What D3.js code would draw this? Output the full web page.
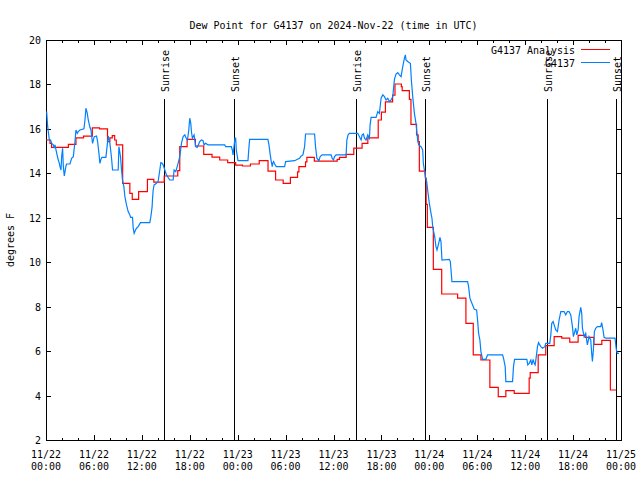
<!DOCTYPE html>
<html><head><meta charset="utf-8">
<script src="https://cdn.jsdelivr.net/npm/d3@7"></script>
<style>
body{margin:0;background:#fff}
svg text{font-family:"DejaVu Sans Mono",monospace;font-size:11px;fill:#000}
</style></head><body>
<svg id="c" width="640" height="480"></svg>
<script>
// ---- data (hours since 2024-11-22 00:00 UTC) ----
const titleText = "Dew Point for G4137 on 2024-Nov-22 (time in UTC)";
const yLabel = "degrees F";
const seriesNames = ["G4137 Analysis", "G4137"];
const yTicks = [2, 4, 6, 8, 10, 12, 14, 16, 18, 20];

const analysisHours = [
  0, 0.5, 0.7, 2.8, 3.75, 4.7, 5.8, 6.7, 7.7, 8.0,
  8.3, 8.6, 8.8, 9.6, 10.5, 10.8, 11.6, 12.7, 13.5, 14.8,
  16.5, 16.75, 17.67, 18.71, 19.75, 20.79, 21.75, 22.75, 23.75, 24.6,
  25.6, 26.7, 27.8, 28.75, 29.7, 30.6, 31.5, 31.67, 32.5, 32.67,
  33.6, 36.46, 36.75, 37.58, 38.54, 39.58, 40.3, 41.6, 42.0, 42.5,
  43.4, 43.7, 44.5, 44.6, 45.5, 45.7, 46.4, 46.6, 46.75, 47.5,
  47.6, 47.75, 48.5, 49.55, 51.54, 52.58, 53.5, 54.46, 55.58, 56.63,
  57.58, 58.63, 60.5, 60.63, 61.63, 62.58, 63.63, 64.58, 65.58, 66.63,
  67.5, 68.6, 69.6, 70.67, 71.42
];
const analysisValues = [
  15.5, 15.35, 15.17, 15.3, 15.6, 15.67, 16.05, 16.0, 15.43, 15.6,
  15.7, 15.5, 15.28, 13.55, 13.1, 12.83, 13.18, 13.73, 13.6, 13.88,
  14.12, 15.2, 15.53, 15.23, 14.85, 14.73, 14.6, 14.48, 14.37, 14.33,
  14.42, 14.57, 14.1, 13.7, 13.55, 13.82, 14.07, 14.3, 14.52, 14.72,
  14.55, 14.63, 14.72, 14.85, 15.13, 15.35, 15.6, 16.4, 16.75, 17.22,
  17.52, 18.02, 17.9, 17.72, 17.33, 16.2, 15.73, 15.43, 14.1, 13.78,
  12.6, 11.57, 9.68, 8.57, 8.38, 7.25, 5.83, 5.6, 4.37, 3.95,
  4.22, 4.1, 4.78, 5.03, 5.83, 6.25, 6.65, 6.58, 6.4, 6.71,
  6.62, 6.3, 6.48, 4.25, 4.25
];

const stationHours = [
  0.08, 0.21, 0.42, 0.58, 0.71, 0.92, 1.04, 1.13, 1.25, 1.42,
  1.54, 1.67, 1.75, 1.88, 1.96, 2.08, 2.17, 2.29, 2.38, 2.5,
  2.58, 3.0, 3.21, 3.42, 3.63, 3.75, 3.92, 4.04, 4.25, 4.75,
  4.88, 5.0, 5.17, 5.29, 5.5, 5.63, 5.75, 5.83, 6.04, 6.33,
  6.46, 6.63, 6.75, 6.88, 7.0, 7.5, 7.67, 7.79, 8.0, 8.21,
  8.33, 9.04, 9.13, 9.33, 9.46, 9.58, 9.75, 9.88, 10.08, 10.29,
  10.5, 10.58, 10.83, 10.92, 11.04, 11.21, 11.33, 11.54, 11.83, 13.0,
  13.13, 13.29, 13.33, 13.42, 13.54, 13.83, 14.04, 14.25, 14.38, 14.54,
  14.67, 14.88, 15.08, 15.5, 15.92, 16.04, 16.25, 16.54, 16.75, 16.96,
  17.17, 17.38, 17.5, 17.71, 17.88, 18.0, 18.13, 18.21, 18.33, 18.42,
  18.54, 18.63, 18.75, 18.92, 19.08, 19.25, 19.46, 19.67, 19.79, 19.96,
  20.29, 22.38, 22.5, 23.21, 23.33, 23.42, 23.54, 23.67, 23.75, 23.83,
  24.04, 25.29, 25.42, 25.5, 27.79, 27.92, 28.08, 28.21, 28.33, 28.42,
  28.5, 28.63, 28.83, 29.88, 30.0, 31.13, 31.75, 31.96, 32.17, 32.38,
  32.5, 33.63, 33.75, 33.92, 34.17, 34.33, 34.58, 35.71, 35.83, 36.0,
  36.13, 36.33, 37.58, 37.67, 37.83, 38.0, 39.04, 39.25, 39.46, 39.58,
  39.75, 39.88, 40.08, 40.29, 40.5, 40.58, 40.71, 41.33, 41.54, 41.75,
  41.96, 42.17, 42.38, 42.58, 42.79, 43.0, 43.21, 43.42, 43.54, 43.63,
  43.83, 44.04, 44.25, 44.46, 44.67, 44.88, 45.0, 45.08, 45.29, 45.5,
  45.63, 45.75, 45.92, 46.13, 46.33, 46.54, 46.67, 46.83, 46.96, 47.17,
  47.25, 47.38, 47.5, 47.67, 47.79, 48.0, 48.21, 48.33, 48.42, 48.54,
  48.67, 48.83, 48.96, 49.17, 49.33, 49.46, 49.58, 50.5, 50.63, 50.83,
  52.79, 52.92, 53.08, 53.33, 53.63, 53.92, 54.04, 54.17, 54.33, 54.46,
  54.67, 55.08, 55.29, 57.17, 57.29, 57.5, 57.58, 58.42, 58.54, 58.67,
  60.21, 60.33, 60.5, 60.71, 60.83, 61.0, 61.13, 61.25, 61.42, 61.54,
  61.67, 61.83, 61.96, 62.17, 62.46, 62.58, 63.08, 63.21, 63.33, 63.5,
  63.63, 63.83, 64.04, 64.25, 64.46, 64.88, 65.08, 65.29, 65.5, 65.71,
  65.92, 66.04, 66.21, 66.33, 66.46, 66.63, 66.75, 66.96, 67.08, 67.17,
  67.38, 67.58, 67.79, 68.0, 68.21, 68.33, 68.42, 68.54, 68.67, 68.83,
  69.04, 69.46, 69.58, 69.75, 69.88, 70.08, 70.5, 71.25, 71.42, 71.54,
  71.75
];
const stationValues = [
  16.78, 16.1, 15.5, 15.5, 15.35, 15.28, 15.13, 15.28, 15.05, 14.78,
  14.6, 14.45, 14.3, 14.15, 14.75, 15.13, 14.3, 13.88, 14.08, 14.33,
  14.42, 14.42, 14.68, 14.75, 15.43, 15.95, 15.8, 15.88, 15.95, 16.0,
  16.4, 16.93, 16.7, 16.4, 16.07, 15.95, 15.58, 15.35, 15.65, 15.68,
  15.43, 14.9, 14.45, 14.63, 14.72, 14.72, 15.28, 15.68, 15.35, 14.68,
  14.15, 14.15, 15.2, 14.75, 14.15, 13.7, 13.4, 12.95, 12.58, 12.28,
  12.13, 12.02, 12.02, 11.53, 11.3, 11.45, 11.53, 11.6, 11.78, 11.78,
  12.05, 12.5, 12.8, 13.25, 13.48, 13.55, 13.63, 14.15, 14.48, 14.45,
  14.38, 14.15, 13.93, 13.7, 13.7, 14.15, 14.08, 14.45, 14.75, 15.35,
  15.65, 15.73, 15.62, 15.5, 15.95, 16.48, 16.25, 15.88, 15.58, 15.65,
  15.73, 15.5, 15.2, 15.17, 15.28, 15.43, 15.5, 15.47, 15.28, 15.35,
  15.28, 15.28, 15.2, 15.2, 15.05, 14.83, 15.2, 15.58, 15.58, 15.05,
  14.57, 14.57, 15.2, 15.53, 15.53, 15.28, 14.83, 14.53, 14.3, 14.48,
  14.53, 14.42, 14.3, 14.3, 14.53, 14.57, 14.68, 14.78, 14.83, 15.2,
  15.77, 15.77, 15.2, 14.68, 14.57, 14.75, 14.83, 14.83, 14.68, 14.6,
  14.75, 14.83, 14.83, 15.5, 15.73, 15.8, 15.8, 15.65, 15.5, 15.73,
  15.77, 15.58, 15.5, 15.73, 15.58, 16.18, 16.52, 16.52, 16.78, 16.7,
  17.38, 17.53, 17.45, 17.3, 17.38, 17.23, 17.3, 17.45, 17.9, 18.23,
  18.47, 18.53, 18.43, 18.35, 18.8, 19.18, 19.33, 19.1, 19.03, 18.98,
  18.95, 18.2, 17.45, 16.7, 16.25, 15.5, 15.28, 15.23, 15.2, 15.05,
  14.45, 14.15, 13.85, 13.63, 13.25, 12.65, 12.2, 11.98, 11.6, 11.38,
  11.15, 10.7, 10.55, 10.85, 11.12, 10.93, 10.1, 10.13, 10.03, 9.13,
  9.13, 8.9, 8.38, 8.15, 7.88, 7.85, 7.4, 6.8, 6.5, 5.98,
  5.63, 5.63, 5.83, 5.83, 5.68, 5.3, 4.63, 4.63, 5.3, 5.63,
  5.63, 5.38, 5.45, 5.6, 5.38, 5.63, 5.45, 5.38, 5.83, 6.2,
  6.38, 6.28, 6.2, 6.13, 6.2, 6.35, 6.35, 6.73, 7.25, 7.33,
  7.18, 6.95, 6.88, 7.4, 7.78, 7.78, 7.63, 7.78, 7.78, 7.63,
  7.1, 6.65, 6.88, 7.03, 6.73, 6.95, 7.55, 7.97, 7.7, 7.03,
  6.65, 6.8, 6.28, 6.65, 6.5, 5.9, 5.53, 6.05, 6.88, 7.03,
  7.1, 7.1, 7.28, 6.95, 6.62, 6.58, 6.58, 6.58, 6.05, 5.9,
  5.9
];

const eventHours = [14.79, 23.54, 38.79, 47.41, 62.79, 71.41];
const eventLabels = ["Sunrise", "Sunset", "Sunrise", "Sunset", "Sunrise", "Sunset"];

// ---- styles / layout ----
const colors = ["#ff0000", "#0080ff"];
const CHAR_W = 6;
const M = {left: 46, right: 621, top: 40, bottom: 440};

const start = Date.UTC(2024, 10, 22);
const toDate = h => new Date(start + h * 3600e3);

const svg = d3.select("#c");
const x = d3.scaleUtc().domain([toDate(0), toDate(72)]).range([M.left, M.right]);
const y = d3.scaleLinear().domain([2, 20]).range([M.bottom, M.top]);

function fit(sel) {
  sel.each(function() {
    const t = d3.select(this).text();
    d3.select(this).attr("textLength", t.length * CHAR_W).attr("lengthAdjust", "spacingAndGlyphs");
  });
  return sel;
}

// title
svg.append("text").attr("x", (M.left + M.right) / 2).attr("y", 29)
  .attr("text-anchor", "middle").text(titleText).call(fit);

// y label
svg.append("text").attr("transform", `translate(14,${(M.top + M.bottom) / 2}) rotate(-90)`)
  .attr("text-anchor", "middle").text(yLabel).call(fit);

const g = svg.append("g").attr("shape-rendering", "crispEdges");

// ticks (gnuplot style: inward, mirrored)
const major = d3.utcHour.every(6).range(toDate(0), toDate(72.01));
const minor = d3.utcHour.every(2).range(toDate(0), toDate(72.01));

function tickAxis(axis, translate, size, values) {
  const a = g.append("g").attr("transform", translate)
    .call(axis.tickValues(values).tickSizeInner(size).tickSizeOuter(0).tickFormat(""));
  a.select(".domain").remove();
  a.selectAll("line").attr("stroke", "#000");
  return a;
}
tickAxis(d3.axisBottom(x), `translate(0,${M.bottom})`, -2.5, minor);
tickAxis(d3.axisBottom(x), `translate(0,${M.bottom})`, -5, major);
tickAxis(d3.axisTop(x), `translate(0,${M.top})`, -2.5, minor);
tickAxis(d3.axisTop(x), `translate(0,${M.top})`, -5, major);
tickAxis(d3.axisLeft(y), `translate(${M.left},0)`, -5, yTicks);
tickAxis(d3.axisRight(y), `translate(${M.right},0)`, -5, yTicks);

// x tick labels (two lines)
const fmtD = d3.utcFormat("%m/%d"), fmtT = d3.utcFormat("%H:%M");
const xl = svg.append("g");
major.forEach(d => {
  xl.append("text").attr("x", x(d)).attr("y", 458).attr("text-anchor", "middle").text(fmtD(d)).call(fit);
  xl.append("text").attr("x", x(d)).attr("y", 470).attr("text-anchor", "middle").text(fmtT(d)).call(fit);
});
// y tick labels
yTicks.forEach(v => {
  svg.append("text").attr("x", 41).attr("y", y(v) + 4).attr("text-anchor", "end").text(v).call(fit);
});

// sunrise / sunset lines
eventHours.forEach((h, i) => {
  const xx = Math.round(x(toDate(h))) + 0.5;
  g.append("line").attr("x1", xx).attr("x2", xx).attr("y1", 99).attr("y2", M.bottom)
    .attr("stroke", "#000").attr("stroke-width", 1);
  svg.append("text").attr("transform", `translate(${xx + 4},92) rotate(-90)`)
    .attr("text-anchor", "start").text(eventLabels[i]).call(fit);
});

// series
const redData = analysisHours.map((h, i) => [toDate(h), analysisValues[i]]);
const blueData = stationHours.map((h, i) => [toDate(h), stationValues[i]]);
const lineStep = d3.line().x(d => x(d[0])).y(d => y(d[1])).curve(d3.curveStepAfter);
const lineLin = d3.line().x(d => x(d[0])).y(d => y(d[1]));

svg.append("path").datum(redData).attr("d", lineStep)
  .attr("fill", "none").attr("stroke", colors[0]).attr("stroke-width", 1.2);
svg.append("path").datum(blueData).attr("d", lineLin)
  .attr("fill", "none").attr("stroke", colors[1]).attr("stroke-width", 1.2);

// border
g.append("rect").attr("x", M.left + 0.5).attr("y", M.top + 0.5)
  .attr("width", M.right - M.left).attr("height", M.bottom - M.top)
  .attr("fill", "none").attr("stroke", "#000");

// legend
const legY = [49.5, 62.5];
seriesNames.forEach((name, i) => {
  svg.append("text").attr("x", 575).attr("y", legY[i] + 4.5).attr("text-anchor", "end").text(name).call(fit);
  g.append("line").attr("x1", 581).attr("x2", 610).attr("y1", legY[i]).attr("y2", legY[i])
    .attr("stroke", colors[i]).attr("stroke-width", 1);
});
</script>
</body></html>
